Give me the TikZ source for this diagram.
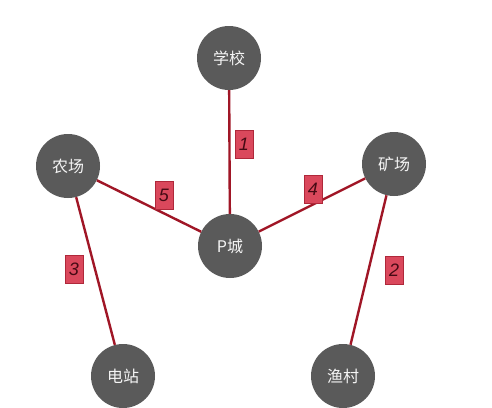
\documentclass[tikz,border=0pt]{standalone}
\usepackage{fontspec}
\newfontfamily\cjkfont{Noto Sans CJK SC}
\newfontfamily\numfont{Liberation Sans}
\definecolor{nodegray}{RGB}{90,90,90}
\definecolor{roadred}{RGB}{160,22,38}
\definecolor{tagfill}{RGB}{218,72,92}
\definecolor{tagedge}{RGB}{175,40,58}
\definecolor{tagtext}{RGB}{70,10,20}
\begin{document}
\begin{tikzpicture}[x=1pt,y={(0,-1pt)},
  place/.style={circle,fill=nodegray,minimum size=64pt,inner sep=0pt,
    text=white!92!gray,font=\cjkfont\fontsize{16}{16}\selectfont},
  road/.style={draw=roadred,line width=2.4pt},
  tag/.style={rectangle,fill=tagfill,draw=tagedge,line width=0.5pt,
    minimum width=18pt,minimum height=28pt,inner sep=0pt,
    text=tagtext,font=\numfont\itshape\fontsize{18}{18}\selectfont}]
\useasboundingbox[fill=white] (0,0) rectangle (492,407);

% towns
\node[place] (school) at (229,58) {学校};
\node[place] (farm) at (68,166) {农场};
\node[place] (mine) at (394,164) {矿场};
\node[place] (city) at (230,246) {P城};
\node[place] (plant) at (123,376) {电站};
\node[place] (village) at (343,376) {渔村};

% roads, clipped at the town circles
\draw[road] (school) -- (city);
\draw[road] (farm) -- (city);
\draw[road] (mine) -- (city);
\draw[road] (farm) -- (plant);
\draw[road] (mine) -- (village);

% road numbers
\node[tag] (t1) at (244,144) {1};
\node[tag] (t5) at (164,195) {5};
\node[tag] (t4) at (313,189) {4};
\node[tag] (t3) at (74,269) {3};
\node[tag] (t2) at (394,270) {2};
\end{tikzpicture}
\end{document}
